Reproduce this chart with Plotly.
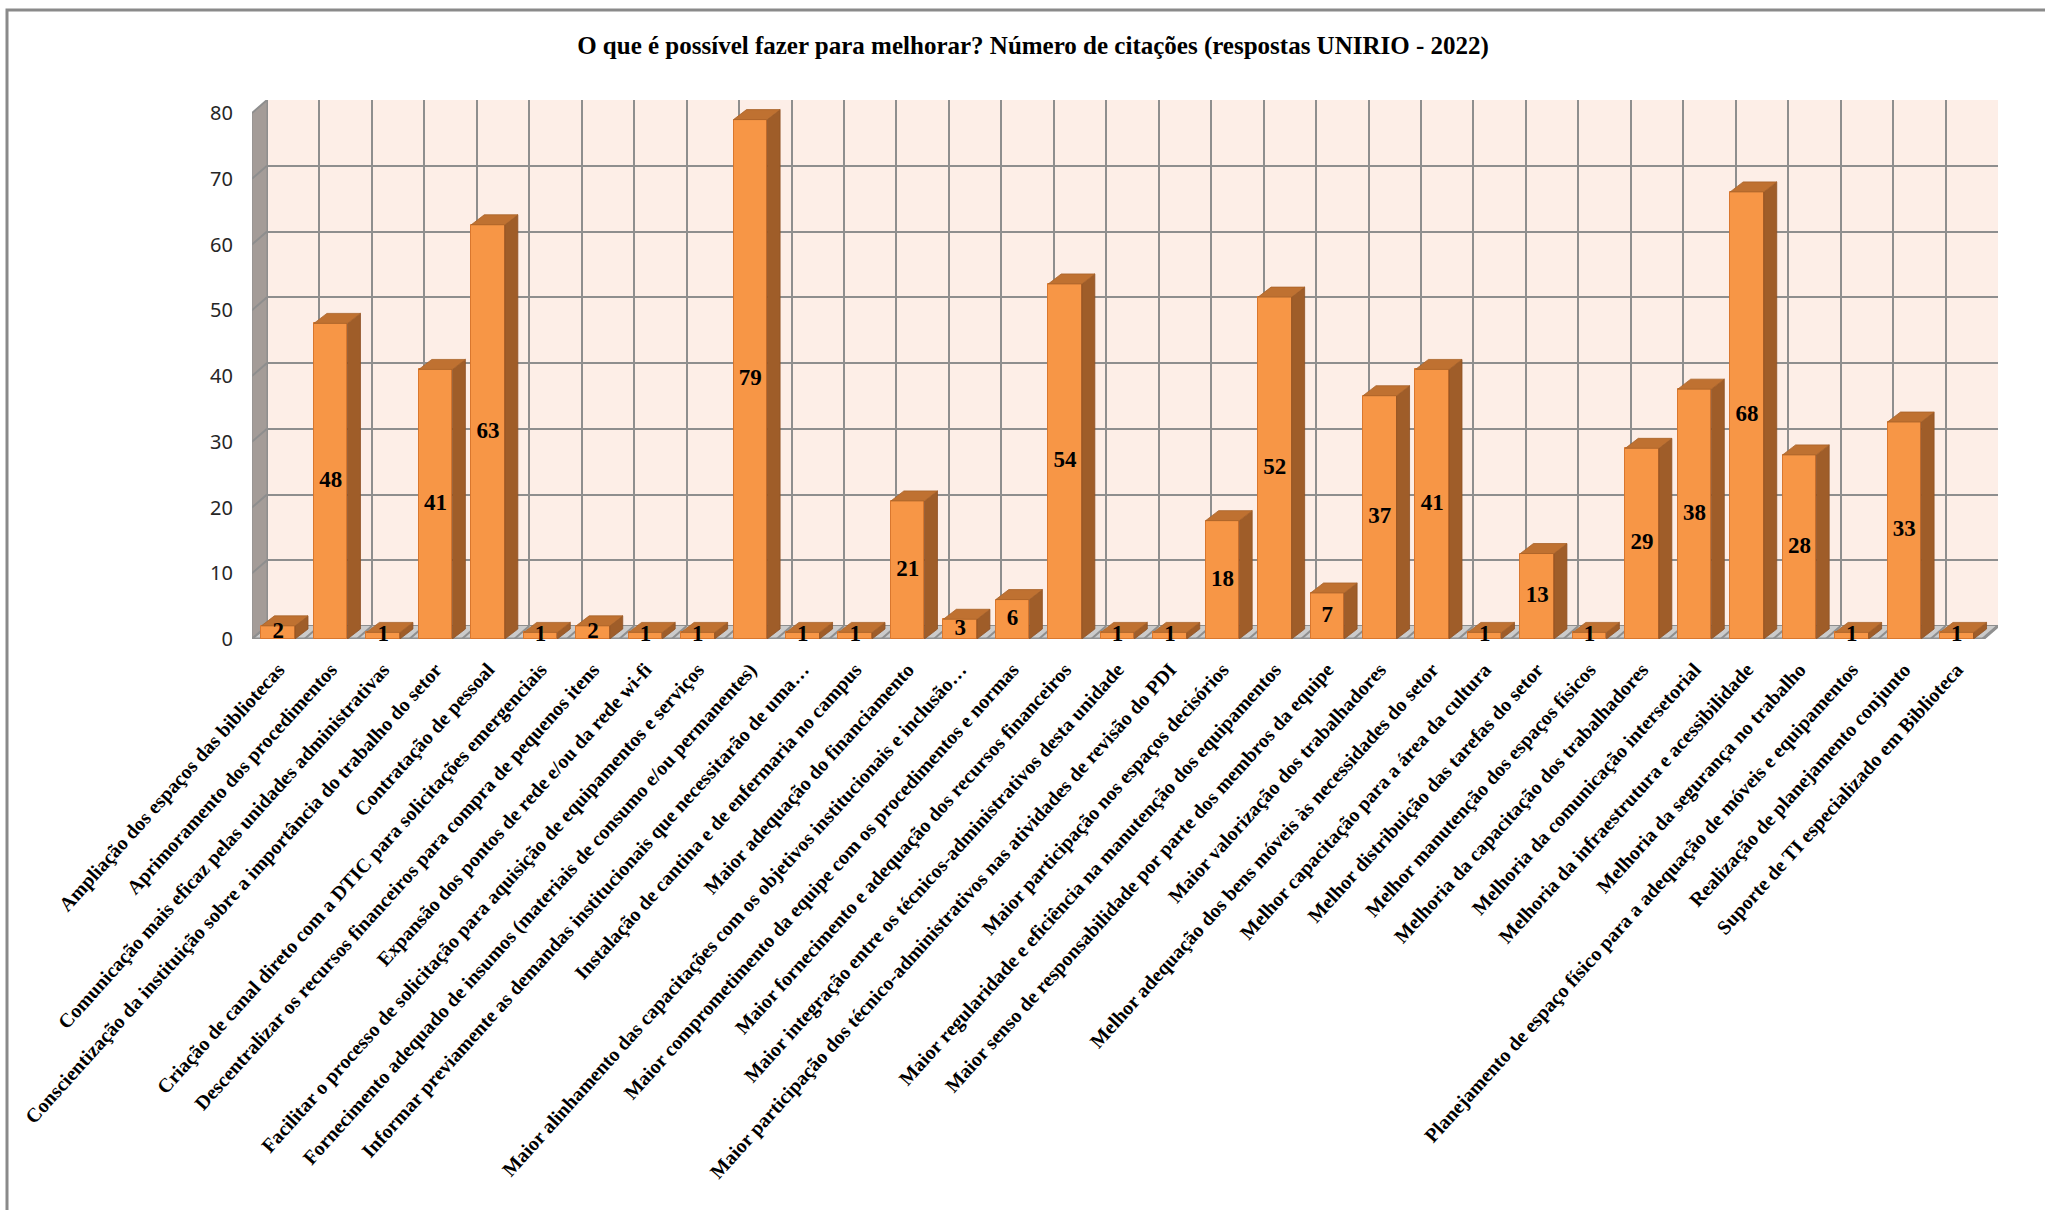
import plotly.graph_objects as go

# Categorias e número de citações
categorias = [
    "Ampliação dos espaços das bibliotecas",
    "Aprimoramento dos procedimentos",
    "Comunicação mais eficaz pelas unidades administrativas",
    "Conscientização da instituição sobre a importância do trabalho do setor",
    "Contratação de pessoal",
    "Criação de canal direto com a DTIC para solicitações emergenciais",
    "Descentralizar os recursos financeiros para compra de pequenos itens",
    "Expansão dos pontos de rede e/ou da rede wi-fi",
    "Facilitar o processo de solicitação para aquisição de equipamentos e serviços",
    "Fornecimento adequado de insumos (materiais de consumo e/ou permanentes)",
    "Informar previamente as demandas institucionais que necessitarão de uma…",
    "Instalação de cantina e de enfermaria no campus",
    "Maior adequação do financiamento",
    "Maior alinhamento das capacitações com os objetivos institucionais e inclusão…",
    "Maior comprometimento da equipe com os procedimentos e normas",
    "Maior fornecimento e adequação dos recursos financeiros",
    "Maior integração entre os técnicos-administrativos desta unidade",
    "Maior participação dos técnico-administrativos nas atividades de revisão do PDI",
    "Maior participação nos espaços decisórios",
    "Maior regularidade e eficiência na manutenção dos equipamentos",
    "Maior senso de responsabilidade por parte dos membros da equipe",
    "Maior valorização dos trabalhadores",
    "Melhor adequação dos bens móveis às necessidades do setor",
    "Melhor capacitação para a área da cultura",
    "Melhor distribuição das tarefas do setor",
    "Melhor manutenção dos espaços físicos",
    "Melhoria da capacitação dos trabalhadores",
    "Melhoria da comunicação intersetorial",
    "Melhoria da infraestrutura e acessibilidade",
    "Melhoria da segurança no trabalho",
    "Planejamento de espaço físico para a adequação de móveis e equipamentos",
    "Realização de planejamento conjunto",
    "Suporte de TI especializado em Biblioteca",
]
citacoes = [2, 48, 1, 41, 63, 1, 2, 1, 1, 79, 1, 1, 21, 3, 6, 54, 1, 1, 18, 52,
            7, 37, 41, 1, 13, 1, 29, 38, 68, 28, 1, 33, 1]
y_ticks = [0, 10, 20, 30, 40, 50, 60, 70, 80]
titulo = "O que é possível fazer para melhorar? Número de citações (respostas UNIRIO - 2022)"

# Geometria da figura (pixels)
W, H = 2045, 1210
ML, MR, MT, MB = 252, 47, 100, 571
plot_w = W - ML - MR
plot_h = H - MT - MB
DX_PX, DY_PX = 15, 13          # profundidade das paredes
BDX_PX, BDY_PX = 13, 10        # profundidade das barras
n = len(categorias)
ymax = y_ticks[-1]
cat_px = (plot_w - DX_PX) / n
unit_px = (plot_h - DY_PX) / ymax
ddx, ddy = DX_PX / cat_px, DY_PX / unit_px
bdx, bdy = BDX_PX / cat_px, BDY_PX / unit_px
BW = 0.64

x_range = [-0.5, n - 0.5 + ddx]
y_range = [0, ymax + ddy]

ORANGE = "#F79646"
SIDE = "#9F5D29"
TOP = "#BF7131"
EDGE = "#D9772E"
GRID = "#8E8E8E"

fig = go.Figure()

# Face frontal das barras
fig.add_trace(go.Bar(
    x=list(range(n)), y=citacoes, width=BW,
    marker=dict(color=ORANGE, line=dict(color=EDGE, width=1)),
    hoverinfo="skip", showlegend=False,
))

# Faces laterais e superiores (efeito 3D)
sx, sy, tx, ty = [], [], [], []
for i, v in enumerate(citacoes):
    r = i + BW / 2
    l = i - BW / 2
    sx += [r, r + bdx, r + bdx, r, r, None]
    sy += [0, bdy, v + bdy, v, 0, None]
    tx += [l, r, r + bdx, l + bdx, l, None]
    ty += [v, v, v + bdy, v + bdy, v, None]
fig.add_trace(go.Scatter(x=sx, y=sy, mode="lines", fill="toself", fillcolor=SIDE,
                         line=dict(color="#8E5024", width=0.8),
                         hoverinfo="skip", showlegend=False))
fig.add_trace(go.Scatter(x=tx, y=ty, mode="lines", fill="toself", fillcolor=TOP,
                         line=dict(color="#A86228", width=0.8),
                         hoverinfo="skip", showlegend=False))

# Rótulos de dados no centro das barras
fig.add_trace(go.Scatter(
    x=list(range(n)), y=[v / 2 for v in citacoes],
    text=[str(v) for v in citacoes], mode="text",
    textfont=dict(family="Liberation Serif", size=23, color="black", weight="bold"),
    cliponaxis=False, hoverinfo="skip", showlegend=False,
))

# Eixos sobrepostos para a grade da parede do fundo
fig.add_trace(go.Scatter(x=[0], y=[0], xaxis="x2", yaxis="y2", mode="markers",
                         marker=dict(opacity=0), hoverinfo="skip", showlegend=False))

shapes = []
# Parede do fundo
shapes.append(dict(type="rect", xref="x", yref="y", x0=-0.5 + ddx, x1=n - 0.5 + ddx,
                   y0=ddy, y1=ymax + ddy, fillcolor="#FDEEE7", line=dict(width=0),
                   layer="below"))
# Parede lateral esquerda
shapes.append(dict(type="path", xref="x", yref="y",
                   path=f"M -0.5,0 L {-0.5 + ddx},{ddy} L {-0.5 + ddx},{ymax + ddy} L -0.5,{ymax} Z",
                   fillcolor="#A49C98", line=dict(color=GRID, width=1), layer="between"))
# Piso
shapes.append(dict(type="path", xref="x", yref="y",
                   path=f"M -0.5,0 L {n - 0.5},0 L {n - 0.5 + ddx},{ddy} L {-0.5 + ddx},{ddy} Z",
                   fillcolor="#CBCBCB", line=dict(width=0), layer="between"))
for b in range(n + 1):
    shapes.append(dict(type="line", xref="x", yref="y", x0=b - 0.5, y0=0,
                       x1=b - 0.5 + ddx, y1=ddy, line=dict(color=GRID, width=2),
                       layer="between"))
for v in y_ticks:
    shapes.append(dict(type="line", xref="x", yref="y", x0=-0.5, y0=v,
                       x1=-0.5 + ddx, y1=v + ddy, line=dict(color=GRID, width=2),
                       layer="between"))
shapes.append(dict(type="line", xref="x", yref="y", x0=-0.5, y0=0, x1=n - 0.5, y1=0,
                   line=dict(color="#909090", width=3), layer="between"))
shapes.append(dict(type="line", xref="x", yref="y", x0=n - 0.5, y0=0,
                   x1=n - 0.5 + ddx, y1=ddy, line=dict(color="#909090", width=3),
                   layer="between"))

# Moldura da área do gráfico
px2x = lambda p: (p - ML) / plot_w
px2y = lambda p: 1 - (p - MT) / plot_h
shapes.append(dict(type="rect", xref="paper", yref="paper",
                   x0=px2x(7), x1=px2x(W + 20), y0=px2y(H + 20), y1=px2y(10),
                   line=dict(color="#8A8A8A", width=3), fillcolor="rgba(0,0,0,0)",
                   layer="above"))

fig.update_layout(
    width=W, height=H,
    margin=dict(l=ML, r=MR, t=MT, b=MB, pad=0),
    paper_bgcolor="white", plot_bgcolor="white",
    title=dict(text=titulo, x=1033 / W, xanchor="center", y=1 - 45 / H, yanchor="middle",
               xref="container",
               font=dict(family="Liberation Serif", size=25, color="black", weight="bold")),
    shapes=shapes,
    showlegend=False,
    bargap=0,
    xaxis=dict(range=x_range, tickmode="array", tickvals=list(range(n)), ticktext=categorias,
               tickangle=-48, ticks="outside", ticklen=10, tickcolor="rgba(0,0,0,0)",
               showgrid=False, zeroline=False, showline=False, automargin=False,
               tickfont=dict(family="Liberation Serif", size=20, color="black", weight="bold")),
    yaxis=dict(range=y_range, tickmode="array", tickvals=y_ticks, ticks="outside",
               ticklen=14, tickcolor="rgba(0,0,0,0)", showgrid=False, zeroline=False,
               showline=False, automargin=False,
               tickfont=dict(family="Noto Sans", size=20, color="#262626")),
    xaxis2=dict(overlaying="x", anchor="y2", range=[-0.5 - ddx, n - 0.5],
                tickmode="array", tickvals=[b - 0.5 for b in range(n + 1)],
                showticklabels=False, showgrid=True, gridcolor=GRID, gridwidth=2,
                zeroline=False, showline=False, ticks=""),
    yaxis2=dict(overlaying="y", anchor="x2", range=[-ddy, ymax], tickmode="array",
                tickvals=y_ticks, showticklabels=False, showgrid=True, gridcolor=GRID,
                gridwidth=2, zeroline=False, showline=False, ticks=""),
)

fig.write_html("out.html")
